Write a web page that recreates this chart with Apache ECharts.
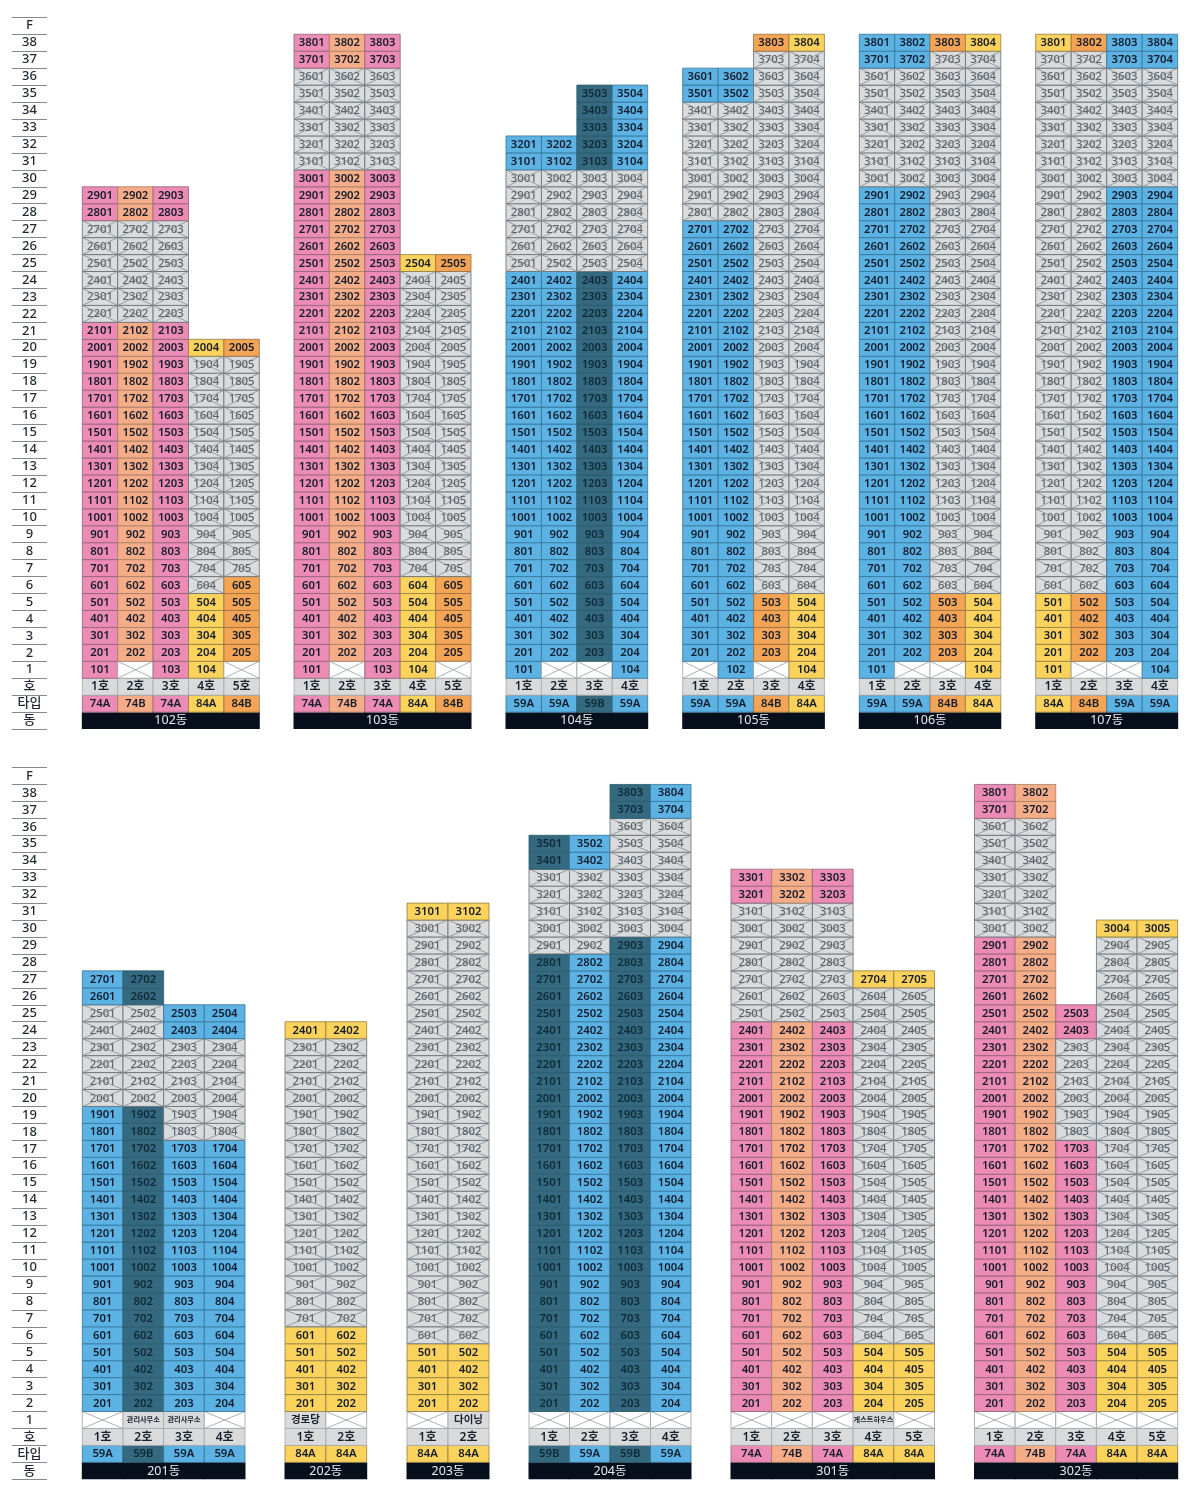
<!DOCTYPE html>
<html><head><meta charset="utf-8">
<style>html,body{margin:0;padding:0;background:#fff}#c{width:1189px;height:1498px}</style>
<script src="https://cdn.jsdelivr.net/npm/echarts@6/dist/echarts.min.js"></script>
</head><body><div id="c"></div>
<script>
// ---- row labels (bottom to top) ----
const floorLabels = ['동','타입','호','1','2','3','4','5','6','7','8','9','10','11','12','13','14','15','16','17','18','19','20','21','22','23','24','25','26','27','28','29','30','31','32','33','34','35','36','37','38','F'];
// ---- per building values ----
const names = ['102동','103동','104동','105동','106동','107동','201동','202동','203동','204동','301동','302동'];
const types102=['74A','74B','74A','84A','84B'], tops102=[29,29,29,20,20], closed102=[[22,27],[22,27],[22,27],[6,19],[7,19]], ground102=['101','','103','104',''];
const types103=['74A','74B','74A','84A','84B'], tops103=[38,38,38,25,25], closed103=[[31,36],[31,36],[31,36],[7,24],[7,24]], ground103=['101','','103','104',''];
const types104=['59A','59A','59B','59A'], tops104=[32,32,35,35], closed104=[[25,30],[25,30],[25,30],[25,30]], ground104=['101','','','104'];
const types105=['59A','59A','84B','84A'], tops105=[36,36,38,38], closed105=[[28,34],[28,34],[6,37],[6,37]], ground105=['','102','','104'];
const types106=['59A','59A','84B','84A'], tops106=[38,38,38,38], closed106=[[30,36],[30,36],[6,37],[6,37]], ground106=['101','','','104'];
const types107=['84A','84B','59A','59A'], tops107=[38,38,38,38], closed107=[[6,37],[6,37],[30,36],[30,36]], ground107=['101','','','104'];
const types201=['59A','59B','59A','59A'], tops201=[27,27,25,25], closed201=[[20,25],[20,25],[18,23],[18,23]], ground201=['','관리사무소','관리사무소',''];
const types202=['84A','84A'], tops202=[24,24], closed202=[[7,23],[7,23]], ground202=['경로당',''];
const types203=['84A','84A'], tops203=[31,31], closed203=[[6,30],[6,30]], ground203=['','다이닝'];
const types204=['59B','59A','59B','59A'], tops204=[35,35,38,38], closed204=[[29,33],[29,33],[30,36],[30,36]], ground204=['','','',''];
const types301=['74A','74B','74A','84A','84A'], tops301=[33,33,33,27,27], closed301=[[25,31],[25,31],[25,31],[6,26],[6,26]], ground301=['','','','게스트하우스',''];
const types302=['74A','74B','74A','84A','84A'], tops302=[38,38,25,30,30], closed302=[[30,36],[30,36],[18,23],[6,29],[6,29]], ground302=['','','','',''];
const buildings = [
 [types102,tops102,closed102,ground102],[types103,tops103,closed103,ground103],[types104,tops104,closed104,ground104],
 [types105,tops105,closed105,ground105],[types106,tops106,closed106,ground106],[types107,tops107,closed107,ground107],
 [types201,tops201,closed201,ground201],[types202,tops202,closed202,ground202],[types203,tops203,closed203,ground203],
 [types204,tops204,closed204,ground204],[types301,tops301,closed301,ground301],[types302,tops302,closed302,ground302]];

// ---- styles and layout ----
const FONT = '"Noto Sans","Noto Sans CJK KR",sans-serif';
const fills = {'74A':'#ec8cb5','74B':'#f5ad88','84A':'#fbd25b','84B':'#f4a455','59A':'#5cb3e3','59B':'#35697f'};
const edges = {'74A':'#90617a','74B':'#a67d66','84A':'#8f7e42','84B':'#9a6e40','59A':'#33759b','59B':'#2a5a6c'};
const TOPS = [17.3, 767.5], ROWS_H = 711.8;
const frames = [[82.3,177],[294,177],[506,141.7],[682.7,141.7],[859.3,141.5],[1035.7,142],
                [82.3,162.7],[285,81.7],[407,82],[529,162],[731,203.5],[974.5,203.2]];

const grids=[], xAxes=[], yAxes=[], series=[];
function addGrid(left,top,width,cats,showLabels){
  const i=grids.length;
  grids.push({left,top,width,height:ROWS_H,containLabel:false});
  xAxes.push({gridIndex:i,type:'category',data:cats,show:false,boundaryGap:true});
  yAxes.push({gridIndex:i,type:'category',data:floorLabels,show:showLabels,boundaryGap:true,
    axisLine:{show:false},axisTick:{show:false},
    axisLabel:{show:showLabels,inside:true,interval:0,margin:17.5,align:'center',color:'#1f2830',fontFamily:FONT,fontSize:13,fontWeight:500},
    splitLine:{show:showLabels,interval:0,showMinLine:true,showMaxLine:true,lineStyle:{color:'#84898e',width:1}}});
  return i;
}
addGrid(12,TOPS[0],35,['층'],true);
addGrid(12,TOPS[1],35,['층'],true);

function cellsFor(b){
  const [types,tops,closed,ground]=b, out=[];
  types.forEach((t,c)=>{
    const unit=c+1;
    out.push({value:[c,0],kind:'dong'});
    out.push({value:[c,1],kind:'type',label:t,fill:fills[t],edge:edges[t]});
    out.push({value:[c,2],kind:'ho',label:unit+'호'});
    const g=ground[c];
    if(g==='') out.push({value:[c,3],kind:'empty'});
    else if(/^\d/.test(g)) out.push({value:[c,3],kind:'unit',label:g,fill:fills[t],edge:edges[t]});
    else out.push({value:[c,3],kind:'facility',label:g});
    for(let f=2;f<=tops[c];f++){
      const label=f+'0'+unit;
      const shut=f>=closed[c][0]&&f<=closed[c][1];
      out.push(shut?{value:[c,f+2],kind:'closed',label}:{value:[c,f+2],kind:'unit',label,fill:fills[t],edge:edges[t]});
    }
  });
  return out;
}

buildings.forEach((b,bi)=>{
  const rowTop=bi<6?TOPS[0]:TOPS[1];
  const gi=addGrid(frames[bi][0],rowTop,frames[bi][1],b[0].map((_,c)=>(c+1)+'호'),false);
  const cells=cellsFor(b), n=b[0].length;
  series.push({type:'custom',xAxisIndex:gi,yAxisIndex:gi,silent:true,animation:false,clip:false,
    data:cells,encode:{x:0,y:1},
    renderItem(params,api){
      const d=cells[params.dataIndex];
      const p=api.coord([api.value(0),api.value(1)]), s=api.size([1,1]);
      const w=s[0],h=s[1],x=p[0]-w/2,y=p[1]-h/2;
      const line=(x1,y1,x2,y2,col,lw)=>({type:'line',shape:{x1,y1,x2,y2},style:{stroke:col,lineWidth:lw}});
      const rect=(fill,stroke)=>({type:'rect',shape:{x,y,width:w,height:h},style:{fill,stroke,lineWidth:0.8}});
      const text=(t,col,size,weight)=>({type:'text',x:p[0],y:p[1]+0.3,style:{text:t,fill:col,fontFamily:FONT,fontSize:size,fontWeight:weight,align:'center',verticalAlign:'middle'}});
      let kids=[];
      if(d.kind==='dong'){
        kids=[{type:'rect',shape:{x:x-0.5,y,width:w+1,height:h},style:{fill:'#060f1b'}}];
        if(d.value[0]===n-1) kids.push({type:'text',x:x+w-w*n/2,y:p[1]+0.3,z2:5,style:{text:names[bi],fill:'#e8eaec',fontFamily:FONT,fontSize:12.5,fontWeight:400,align:'center',verticalAlign:'middle'}});
      } else if(d.kind==='ho'){
        kids=[rect('#d9dadc','#a4a8ac'),text(d.label,'#16212a',12,600)];
      } else if(d.kind==='type'||d.kind==='unit'){
        kids=[rect(d.fill,d.edge),text(d.label,d.fill==='#35697f'?'#0f2a36':'#141c2c',11.3,600)];
      } else if(d.kind==='closed'){
        kids=[rect('#d9dbdd','#626c72'),line(x,y,x+w,y+h,'#8c949a',0.9),line(x,y+h,x+w,y,'#8c949a',0.9),text(d.label,'#5f6569',11.3,500)];
      } else if(d.kind==='empty'){
        kids=[rect('#ffffff','#9aa0a4'),line(x,y,x+w,y+h,'#a3a8ac',0.9),line(x,y+h,x+w,y,'#a3a8ac',0.9)];
      } else {
        kids=[rect('#d9dadc','#a4a8ac'),text(d.label,'#16212a',d.label.length>4?7.2:d.label.length>3?8:10.5,700)];
      }
      return {type:'group',children:kids};
    }});
});

const chart=echarts.init(document.getElementById('c'),null,{renderer:'canvas'});
chart.setOption({animation:false,backgroundColor:'#ffffff',grid:grids,xAxis:xAxes,yAxis:yAxes,series});
</script></body></html>
